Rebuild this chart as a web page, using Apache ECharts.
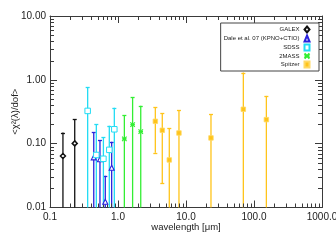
<!DOCTYPE html>
<html><head><meta charset="utf-8">
<script src="https://cdn.jsdelivr.net/npm/echarts@6/dist/echarts.min.js"></script>
<style>html,body{margin:0;padding:0;background:#fff}#c{width:336px;height:240px}</style>
</head><body><div id="c"></div>
<script>
// ---- data ----
const galexWl = [0.155, 0.231];
const galexVal = [0.064, 0.101];
const galexErr = [0.085, 0.143];

const daleWl = [0.44, 0.543, 0.65, 0.807];
const daleVal = [0.061, 0.057, 0.0123, 0.042];
const daleErr = [0.090, 0.057, 0.0192, 0.065];

const sdssWl = [0.358, 0.48, 0.61, 0.745, 0.883];
const sdssVal = [0.326, 0.0665, 0.058, 0.080, 0.168];
const sdssErr = [0.44, 0.134, 0.068, 0.111, 0.198];

const tmassWl = [1.24, 1.64, 2.16];
const tmassVal = [0.119, 0.199, 0.154];
const tmassErr = [0.161, 0.334, 0.240];

const spitzerWl = [3.54, 4.48, 5.68, 7.88, 23.3, 69.7, 152];
const spitzerVal = [0.224, 0.162, 0.0556, 0.147, 0.123, 0.346, 0.238];
const spitzerErr = [0.152, 0.138, 0.118, 0.19, 0.167, 0.954, 0.322];

const xTicks = [0.1, 1, 10, 100, 1000];
const yTicks = [0.01, 0.1, 1, 10];
const xMinorTicks = [0.2,0.3,0.4,0.5,0.6,0.7,0.8,0.9,2,3,4,5,6,7,8,9,20,30,40,50,60,70,80,90,200,300,400,500,600,700,800,900];
const yMinorTicks = [0.02,0.03,0.04,0.05,0.06,0.07,0.08,0.09,0.2,0.3,0.4,0.5,0.6,0.7,0.8,0.9,2,3,4,5,6,7,8,9];

const X_MIN = xTicks[0], X_MAX = xTicks[xTicks.length-1];
const Y_MIN = yTicks[0], Y_MAX = yTicks[yTicks.length-1];
const AX = '#3a3a3a';
const FONT = '"Liberation Sans", Arial, sans-serif';

const groups = [
  {name:'GALEX', wl:galexWl, val:galexVal, err:galexErr, color:'#111111',
   symbol:'diamond', size:5, fill:'#ffffff', bw:1.5},
  {name:'Dale et al. 07 (KPNO+CTIO)', wl:daleWl, val:daleVal, err:daleErr, color:'#2a22dd',
   symbol:'triangle', size:5, fill:'#ffffff', bw:1.1},
  {name:'SDSS', wl:sdssWl, val:sdssVal, err:sdssErr, color:'#22dcf4',
   symbol:'rect', size:5.5, fill:'#ffffff', bw:1},
  {name:'2MASS', wl:tmassWl, val:tmassVal, err:tmassErr, color:'#33ee33',
   symbol:'path://M0,0L10,10M10,0L0,10M0,5L10,5', size:4.5, fill:'none', bw:1.2},
  {name:'Spitzer', wl:spitzerWl, val:spitzerVal, err:spitzerErr, color:'#ffc41a',
   symbol:'rect', size:4.5, fill:'#ffc41a', bw:0.8, border:'#ffd966'}
];

const snap = v => Math.round(v) + 0.5;

function errRender(color){
  return function(params, api){
    const x = api.value(0), lo = api.value(1), hi = api.value(2);
    const top = api.coord([x, hi]);
    const clipped = lo <= Y_MIN;
    const bot = api.coord([x, clipped ? Y_MIN : lo]);
    const px = top[0];
    const st = {stroke: color, lineWidth: 1.3};
    const ch = [
      {type:'line', shape:{x1:px, y1:top[1], x2:px, y2:bot[1]}, style:st},
      {type:'line', shape:{x1:px-2, y1:snap(top[1]), x2:px+2, y2:snap(top[1])}, style:st}
    ];
    if (!clipped) ch.push({type:'line', shape:{x1:px-2, y1:snap(bot[1]), x2:px+2, y2:snap(bot[1])}, style:st});
    return {type:'group', children:ch};
  };
}

const series = [];
groups.forEach(g => {
  series.push({
    type:'custom', name:g.name+' err', z:2, silent:true,
    renderItem: errRender(g.color),
    encode:{x:0, y:2},
    data: g.wl.map((w,i)=>[w, Math.max(g.val[i]-g.err[i], 0.001), g.val[i]+g.err[i]])
  });
});
groups.forEach(g => {
  series.push({
    type:'scatter', name:g.name, z:5, symbol:g.symbol, symbolSize:g.size,
    itemStyle:{color:g.fill==='none' ? g.color : g.fill, borderColor:g.border||g.color, borderWidth:g.bw, opacity:1},
    data: g.wl.map((w,i)=>[w, g.val[i]])
  });
});

// minor ticks on all four sides, drawn through the axes' scales
series.push({
  type:'custom', name:'minorTicks', silent:true, z:3, encode:{x:0, y:1},
  renderItem:function(p, api){
    const st = {stroke:AX, lineWidth:1};
    const ch = [];
    xMinorTicks.forEach(v => {
      const b = api.coord([v, Y_MIN]), t = api.coord([v, Y_MAX]);
      const x = snap(b[0]);
      ch.push({type:'line', shape:{x1:x, y1:b[1], x2:x, y2:b[1]-4}, style:st});
      ch.push({type:'line', shape:{x1:x, y1:t[1], x2:x, y2:t[1]+4}, style:st});
    });
    yMinorTicks.forEach(v => {
      const l = api.coord([X_MIN, v]), r = api.coord([X_MAX, v]);
      const y = snap(l[1]);
      ch.push({type:'line', shape:{x1:l[0], y1:y, x2:l[0]+4, y2:y}, style:st});
      ch.push({type:'line', shape:{x1:r[0], y1:y, x2:r[0]-4, y2:y}, style:st});
    });
    return {type:'group', children:ch};
  },
  data: [[1, 0.1]]
});

const axLine = {show:true, lineStyle:{color:AX, width:1}};
const axTick = {show:true, inside:true, length:7, lineStyle:{color:AX, width:1}};

const option = {
  animation:false,
  backgroundColor:'#ffffff',
  textStyle:{fontFamily:FONT},
  grid:{left:50, right:14, top:16, bottom:32.5, containLabel:false, outerBoundsMode:'none'},
  legend:{
    show:true, orient:'vertical', right:17, top:23, align:'right',
    padding:[2.5,8.5,2.5,3], itemGap:1, itemWidth:5, itemHeight:6,
    backgroundColor:'#ffffff', borderColor:'#444444', borderWidth:1,
    textStyle:{fontSize:6, color:'#222', fontFamily:FONT, lineHeight:7},
    selectedMode:false,
    data: groups.map(g=>g.name)
  },
  xAxis:[{
    type:'log', logBase:10, min:X_MIN, max:X_MAX, position:'bottom',
    axisLine:axLine, axisTick:axTick, splitLine:{show:false},
    axisLabel:{show:true, color:'#222', fontSize:10, margin:5, fontFamily:FONT,
      formatter:v=>Number(v).toFixed(1)},
    name:'wavelength [μm]', nameLocation:'middle', nameGap:15, nameMoveOverlap:false,
    nameTextStyle:{fontSize:9.5, color:'#222', fontFamily:FONT}
  },{
    type:'log', logBase:10, min:X_MIN, max:X_MAX, position:'top',
    axisLine:axLine, axisTick:axTick, splitLine:{show:false}, axisLabel:{show:false}
  }],
  yAxis:[{
    type:'log', logBase:10, min:Y_MIN, max:Y_MAX, position:'left',
    axisLine:axLine, axisTick:axTick, splitLine:{show:false},
    axisLabel:{show:true, color:'#222', fontSize:10, margin:4, fontFamily:FONT,
      formatter:v=>Number(v).toFixed(2)},
    name:'<χ²(λ)/dof>', nameLocation:'middle', nameGap:30, nameMoveOverlap:false,
    nameTextStyle:{fontSize:9.5, color:'#222', fontFamily:FONT}
  },{
    type:'log', logBase:10, min:Y_MIN, max:Y_MAX, position:'right',
    axisLine:axLine, axisTick:axTick, splitLine:{show:false}, axisLabel:{show:false}
  }],
  series: series
};
const chart = echarts.init(document.getElementById('c'), null, {renderer:'canvas'});
chart.setOption(option);
</script></body></html>
